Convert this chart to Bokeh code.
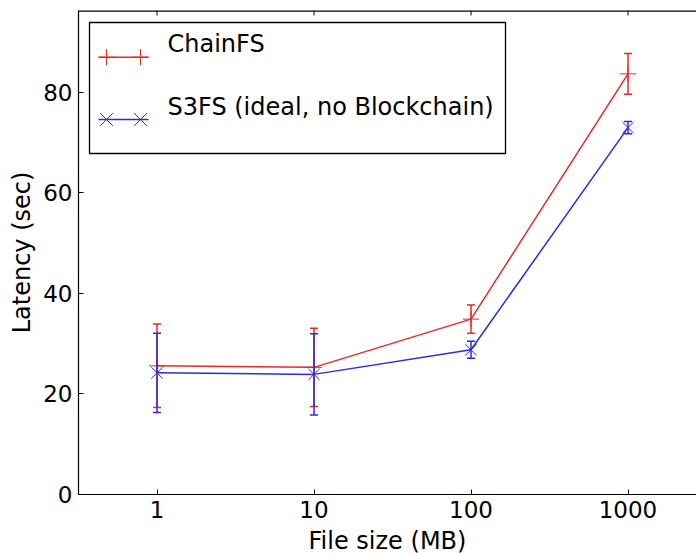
from bokeh.plotting import figure
from bokeh.models import (ColumnDataSource, Whisker, TeeHead, FixedTicker,
                          BoxAnnotation, Label, Range1d, Span)
from bokeh.embed import file_html
from bokeh.resources import INLINE

# ---- data ----
file_sizes = [1, 10, 100, 1000]
x_tick_labels = ["1", "10", "100", "1000"]
chainfs_latency = [25.6, 25.3, 34.9, 83.7]
chainfs_err = [8.3, 7.8, 2.8, 4.05]
s3fs_latency = [24.2, 23.9, 28.8, 73.0]
s3fs_err = [7.9, 8.1, 1.7, 1.2]
y_ticks = [0, 20, 40, 60, 80]
series_labels = ["ChainFS", "S3FS (ideal, no Blockchain)"]
x_label = "File size (MB)"
y_label = "Latency (sec)"

RED = "#e62a2a"
BLUE = "#2a2ae6"
FONT = "DejaVu Sans"

W, H = 696, 557
FL, FT, FB = 78, 10, 63
frame_w = W - FL
frame_h = H - FT - FB
x_lo = -0.5
decade = 157.0
x_hi = x_lo + frame_w / decade
px_per_unit = frame_h / 96.3
y_hi = 96.3

p = figure(width=W, height=H, x_axis_type="log",
           x_range=Range1d(10 ** x_lo, 10 ** x_hi), y_range=Range1d(0, y_hi),
           output_backend="svg", toolbar_location=None,
           min_border_left=FL, min_border_right=0, min_border_top=FT, min_border_bottom=FB)
p.background_fill_color = "white"
p.border_fill_color = "white"
p.outline_line_color = None
p.grid.visible = False

# page-pixel -> data helpers for the hand-made legend
def lx(img_x):
    return 10 ** (x_lo + (img_x - FL) / decade)

def ly(img_y):
    return (FT + frame_h - img_y) / px_per_unit

# ---- axes ----
xax = p.below[0]
yax = p.left[0]
for ax in [xax, yax]:
    ax.major_tick_in = 5
    ax.major_tick_out = 0
    ax.minor_tick_in = 0
    ax.minor_tick_out = 0
    ax.axis_line_color = "black"
    ax.axis_line_width = 1.2
    ax.major_tick_line_color = "black"
    ax.major_tick_line_width = 1
    ax.major_label_text_font = FONT
    ax.major_label_text_font_size = "23px"
    ax.major_label_text_color = "black"
    ax.axis_label_text_font = FONT
    ax.axis_label_text_font_size = "24px"
    ax.axis_label_text_font_style = "normal"
    ax.axis_label_text_color = "black"

xax.ticker = FixedTicker(ticks=file_sizes, minor_ticks=[])
xax.major_label_overrides = {v: t for v, t in zip(file_sizes, x_tick_labels)}
xax.axis_label = x_label
xax.major_label_standoff = 6
xax.axis_label_standoff = 6
yax.ticker = FixedTicker(ticks=y_ticks, minor_ticks=[])
yax.axis_label = y_label
yax.major_label_standoff = 6
yax.axis_label_standoff = 4

# top spine with inward ticks
p.add_layout(Span(location=y_hi, dimension="width", line_color="black", line_width=2.4))
p.segment(x0=file_sizes, x1=file_sizes, y0=[y_hi] * len(file_sizes),
          y1=[y_hi - 5 / px_per_unit] * len(file_sizes), line_color="black", line_width=1)

# ---- series ----
def draw_series(means, errs, color, marker, msize):
    src = ColumnDataSource(dict(
        x=file_sizes, y=means,
        upper=[m + e for m, e in zip(means, errs)],
        lower=[m - e for m, e in zip(means, errs)]))
    p.add_layout(Whisker(source=src, base="x", upper="upper", lower="lower",
                         line_color=color, line_width=1.5, level="glyph",
                         upper_head=TeeHead(size=8, line_color=color, line_width=1.5),
                         lower_head=TeeHead(size=8, line_color=color, line_width=1.5)))
    p.line("x", "y", source=src, line_color=color, line_width=1.5)
    p.scatter("x", "y", source=src, marker=marker, size=msize,
              line_color=color, fill_color=None, line_width=1)

draw_series(chainfs_latency, chainfs_err, RED, "cross", 16)
draw_series(s3fs_latency, s3fs_err, BLUE, "x", 16)

# ---- legend (drawn by hand to show two markers per handle) ----
p.add_layout(BoxAnnotation(left=lx(89), right=lx(505), top=ly(22), bottom=ly(153),
                           fill_color="white", fill_alpha=1, line_color="black",
                           line_alpha=1, line_width=1.3, level="underlay"))
for row_y, base_y, color, marker, msize, text in [
        (56.7, 43, RED, "cross", 16, series_labels[0]),
        (119, 106, BLUE, "x", 18, series_labels[1])]:
    p.line([lx(98), lx(148)], [ly(row_y), ly(row_y)], line_color=color, line_width=1.5)
    p.scatter([lx(106), lx(140)], [ly(row_y), ly(row_y)], marker=marker, size=msize,
              line_color=color, fill_color=None, line_width=1)
    p.add_layout(Label(x=lx(167), y=ly(base_y), text=text, text_baseline="alphabetic",
                       text_font=FONT, text_font_size="24px", text_color="black"))

open("out.html", "w").write(file_html(p, INLINE))
